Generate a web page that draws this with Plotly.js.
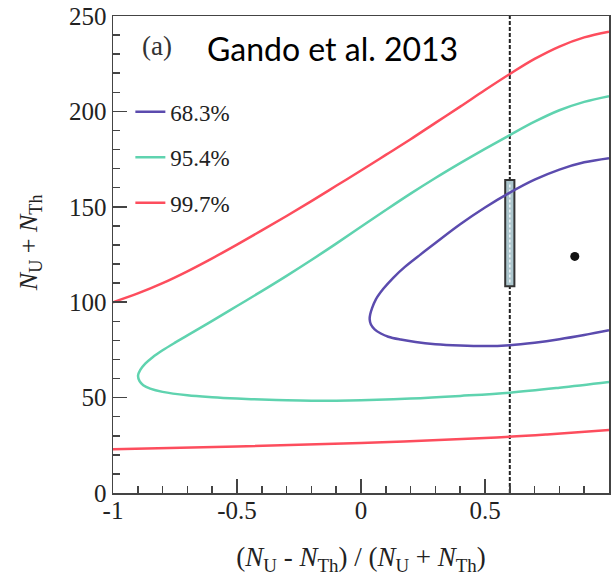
<!DOCTYPE html>
<html>
<head>
<meta charset="utf-8">
<script src="https://cdn.plot.ly/plotly-3.0.1.min.js"></script>
<style>html,body{margin:0;padding:0;background:#fff;}#chart{width:614px;height:576px;}</style>
</head>
<body>
<div id="chart"></div>
<script>
// 68.3% contour (C-shaped, open to the right)
const c68x = [1.0, 0.9, 0.8, 0.7, 0.6, 0.5, 0.4, 0.3, 0.238, 0.177, 0.13, 0.09, 0.06, 0.045, 0.037, 0.035, 0.04, 0.055, 0.08, 0.11, 0.16, 0.22, 0.3, 0.4, 0.5, 0.6, 0.7, 0.8, 0.9, 1.0];
const c68y = [175.5, 173.3, 169.5, 164.2, 157.4, 149.6, 140.8, 131.0, 124.8, 118.5, 112.8, 107.0, 101.5, 97.0, 93.5, 91.0, 88.3, 85.8, 83.6, 81.9, 80.4, 79.1, 78.0, 77.3, 77.0, 77.5, 78.8, 80.6, 82.8, 85.3];
// 95.4% contour
const c95x = [1.0, 0.9, 0.8, 0.7, 0.6, 0.5, 0.4, 0.3, 0.2, 0.1, 0.0, -0.1, -0.2, -0.3, -0.4, -0.5, -0.6, -0.7, -0.75, -0.8, -0.84, -0.87, -0.89, -0.899, -0.893, -0.878, -0.85, -0.8, -0.7, -0.6, -0.5, -0.4, -0.3, -0.2, -0.1, 0.0, 0.2, 0.4, 0.6, 0.8, 1.0];
const c95y = [208.0, 205.0, 200.6, 194.6, 187.6, 180.4, 172.9, 165.1, 156.9, 148.3, 139.5, 130.7, 122.1, 113.8, 105.8, 98.0, 90.2, 82.6, 78.8, 74.8, 71.2, 67.8, 64.5, 61.5, 58.6, 56.5, 54.7, 53.0, 51.2, 50.2, 49.5, 49.0, 48.6, 48.4, 48.4, 48.6, 49.5, 50.9, 52.6, 55.2, 58.2];
// 99.7% contour: upper branch, gap, lower branch
const c99x = [-1.0, -0.9, -0.8, -0.7, -0.6, -0.5, -0.4, -0.3, -0.2, -0.1, 0.0, 0.1, 0.2, 0.3, 0.4, 0.5, 0.6, 0.7, 0.8, 0.9, 1.0, null, -1.0, -0.5, 0.0, 0.5, 0.75, 1.0];
const c99y = [100.0, 104.6, 110.0, 116.2, 123.0, 130.2, 137.6, 145.2, 153.0, 161.0, 169.0, 177.2, 185.4, 194.0, 202.5, 211.2, 219.6, 227.5, 234.0, 238.8, 241.8, null, 22.9, 24.4, 26.2, 28.8, 30.7, 33.0];
const legendNames = ["68.3%", "95.4%", "99.7%"];
const colors = ["#5b4bae", "#5fd3af", "#fd4d5d"];
// measurement box at the dashed line, and best-fit point
const dashX = 0.6;
const boxX = [0.6], boxLow = [108.3], boxHigh = [164];
const bestX = [0.862], bestY = [124];

const boxLen = boxHigh.map((h, i) => h - boxLow[i]);

const traces = [
  {type: 'bar', x: boxX, y: boxLen, base: boxLow, width: [0.037],
   marker: {color: '#acc6cd', line: {color: '#333', width: 2}}, showlegend: false, hoverinfo: 'skip'},
  {type: 'scatter', mode: 'lines', x: [boxX[0], boxX[0]], y: [boxLow[0] + 2, boxHigh[0] - 2],
   line: {color: 'rgba(255,255,255,0.85)', width: 1.5, dash: '3px,2px'}, showlegend: false, hoverinfo: 'skip'},
  {type: 'scatter', mode: 'lines', x: c68x, y: c68y, name: legendNames[0], legendgroup: 'a',
   line: {color: colors[0], width: 2.5, shape: 'spline', smoothing: 1}},
  {type: 'scatter', mode: 'lines', x: c95x, y: c95y, name: legendNames[1], legendgroup: 'b',
   line: {color: colors[1], width: 2.5, shape: 'spline', smoothing: 1}},
  {type: 'scatter', mode: 'lines', x: c99x, y: c99y, name: legendNames[2], legendgroup: 'c',
   line: {color: colors[2], width: 2.5, shape: 'spline', smoothing: 1}, connectgaps: false},
  {type: 'scatter', mode: 'markers', x: bestX, y: bestY, showlegend: false,
   marker: {color: '#111', size: 9}}
];

const serif = 'Liberation Serif, Times New Roman, serif';
const axisCommon = {
  showgrid: false, zeroline: false, showline: true, linecolor: '#444', linewidth: 1.5, mirror: true,
  ticks: 'inside', ticklen: 14, tickwidth: 1.5, tickcolor: '#444',
  tickfont: {family: serif, size: 25, color: '#222'}
};

const layout = {
  width: 614, height: 576,
  margin: {l: 113, r: 5, t: 16, b: 83},
  paper_bgcolor: '#fff', plot_bgcolor: '#fff',
  showlegend: true,
  legend: {x: 0.035, y: 0.844, xanchor: 'left', yanchor: 'top', bgcolor: 'rgba(0,0,0,0)',
           font: {family: serif, size: 23, color: '#222'}, tracegroupgap: 12.5},
  xaxis: Object.assign({}, axisCommon, {
    range: [-1, 1], tickvals: [-1, -0.5, 0, 0.5, 1], ticktext: ['-1', '-0.5', '0', '0.5', '1'],
    ticklabelstandoff: -6,
    minor: {ticks: 'inside', ticklen: 7, dtick: 0.1, tickwidth: 1.5, tickcolor: '#444'},
    title: {text: '(<i>N</i><sub>U</sub> - <i>N</i><sub>Th</sub>) / (<i>N</i><sub>U</sub> + <i>N</i><sub>Th</sub>)',
            font: {family: serif, size: 27, color: '#222'}, standoff: 26}
  }),
  yaxis: Object.assign({}, axisCommon, {
    range: [0, 250], dtick: 50,
    minor: {ticks: 'inside', ticklen: 7, dtick: 10, tickwidth: 1.5, tickcolor: '#444'}
  }),
  shapes: [
    {type: 'line', layer: 'below', xref: 'x', yref: 'paper', x0: dashX, x1: dashX, y0: 0, y1: 1,
     line: {color: '#222', width: 2, dash: '4px,2px'}}
  ],
  annotations: [
    {text: '<i>N</i><sub>U</sub> + <i>N</i><sub>Th</sub>', xref: 'paper', yref: 'paper',
     x: (30 - 113) / 496, y: (492.7 - 243) / 476.7, xanchor: 'center', yanchor: 'middle', textangle: -90,
     showarrow: false, font: {family: serif, size: 26, color: '#222'}},
    {text: '(a)', xref: 'paper', yref: 'paper', x: (155 - 113) / 476, y: (492.7 - 46) / 476.7,
     xanchor: 'center', yanchor: 'middle',
     showarrow: false, font: {family: serif, size: 27, color: '#333'}},
    {text: 'Gando et al. 2013', xref: 'paper', yref: 'paper', x: (332 - 113) / 496, y: (492.7 - 48) / 476.7,
     xanchor: 'center', yanchor: 'middle',
     showarrow: false, font: {family: 'Lato, Open Sans, sans-serif', size: 32, color: '#000'}}
  ]
};

Plotly.newPlot('chart', traces, layout, {displayModeBar: false, staticPlot: true});
</script>
</body>
</html>
